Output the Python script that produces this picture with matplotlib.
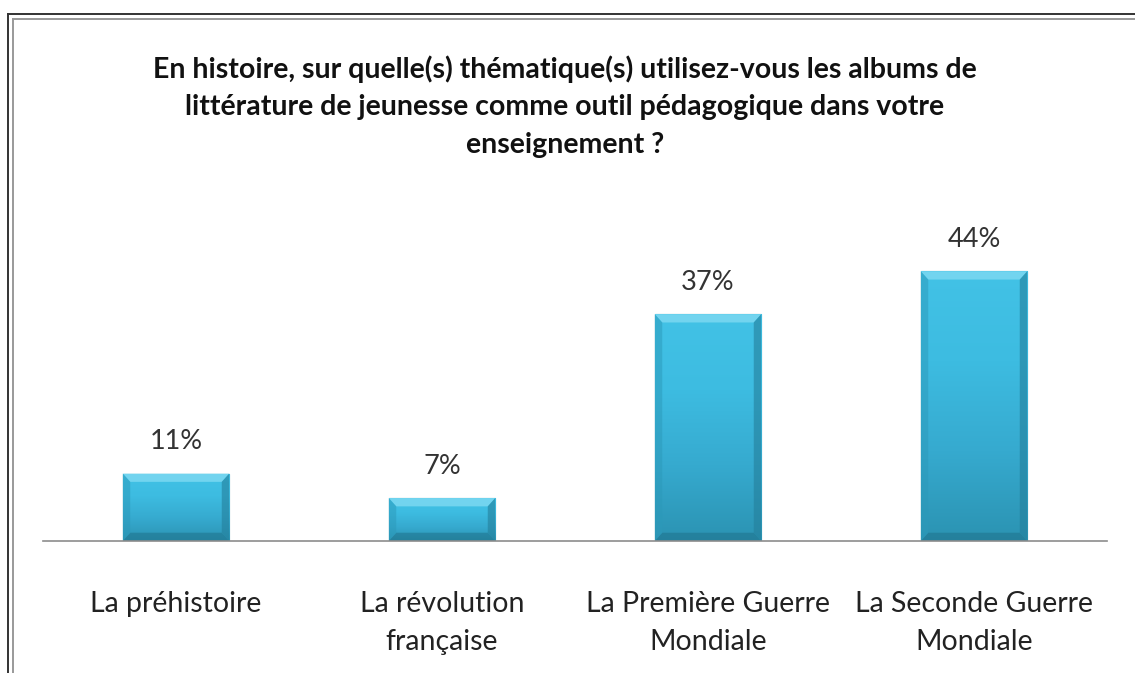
import numpy as np
import matplotlib
matplotlib.use("Agg")
import matplotlib.pyplot as plt
from matplotlib.colors import LinearSegmentedColormap
from matplotlib.patches import Polygon
from matplotlib.lines import Line2D

categories = ["La préhistoire", "La révolution\nfrançaise",
              "La Première Guerre\nMondiale", "La Seconde Guerre\nMondiale"]
values = [11, 7, 37, 44]
value_labels = ["11%", "7%", "37%", "44%"]
title_lines = ["En histoire, sur quelle(s) thématique(s) utilisez-vous les albums de",
               "littérature de jeunesse comme outil pédagogique dans votre",
               "enseignement ?"]

plt.rcParams['font.family'] = ['Lato', 'DejaVu Sans']

W, H = 1135, 673
fig = plt.figure(figsize=(W / 100, H / 100), dpi=100)
fig.patch.set_facecolor("white")

# frame lines (double border at top and left)
fig.add_artist(Line2D([8 / W, 8 / W], [0, 1 - 14 / H], transform=fig.transFigure, color="#333333", lw=1.4))
fig.add_artist(Line2D([8 / W, 1], [1 - 14 / H, 1 - 14 / H], transform=fig.transFigure, color="#333333", lw=1.4))
fig.add_artist(Line2D([12.5 / W, 12.5 / W], [0, 1 - 18.5 / H], transform=fig.transFigure, color="#999999", lw=1.4))
fig.add_artist(Line2D([12.5 / W, 1], [1 - 18.5 / H, 1 - 18.5 / H], transform=fig.transFigure, color="#999999", lw=1.4))

ax = fig.add_axes([43 / W, 1 - 541 / H, (1107 - 43) / W, 306.5 / H])
x = np.arange(len(categories))
bars = ax.bar(x, values, width=0.4, color="#3BB8DD", zorder=2)
ax.set_xlim(-0.5, len(categories) - 0.5)
ax.set_ylim(0, 50)

cmap = LinearSegmentedColormap.from_list("g", ["#2B93B2", "#36AACF", "#3DBCE1", "#42C2E6"])
grad = np.linspace(0, 1, 256).reshape(-1, 1)
for b in bars:
    x0, y0 = b.get_x(), b.get_y()
    w, h = b.get_width(), b.get_height()
    im = ax.imshow(grad, extent=[x0, x0 + w, y0, y0 + h], origin="lower",
                   cmap=cmap, aspect="auto", zorder=3)
    im.set_clip_path(b)
    bx = w * 0.07
    by = 1.35
    ax.add_patch(Polygon([[x0, y0 + h], [x0 + w, y0 + h], [x0 + w - bx, y0 + h - by], [x0 + bx, y0 + h - by]],
                         closed=True, facecolor="#7FDAF2", edgecolor="none", alpha=0.8, zorder=4))
    ax.add_patch(Polygon([[x0, y0], [x0 + w, y0], [x0 + w - bx, y0 + by], [x0 + bx, y0 + by]],
                         closed=True, facecolor="#1E6F88", edgecolor="none", alpha=0.5, zorder=4))
    ax.add_patch(Polygon([[x0, y0], [x0, y0 + h], [x0 + bx, y0 + h - by], [x0 + bx, y0 + by]],
                         closed=True, facecolor="#2C99B9", edgecolor="none", alpha=0.5, zorder=4))
    ax.add_patch(Polygon([[x0 + w, y0], [x0 + w, y0 + h], [x0 + w - bx, y0 + h - by], [x0 + w - bx, y0 + by]],
                         closed=True, facecolor="#247F9B", edgecolor="none", alpha=0.6, zorder=4))
    b.set_edgecolor("#1F7690")
    b.set_linewidth(0.8)

for xi, v, lab in zip(x, values, value_labels):
    ax.annotate(lab, (xi, v), xytext=(0, 14), textcoords="offset points",
                ha="center", va="bottom", fontsize=19.5, color="#333333")

for s in ["top", "right", "left"]:
    ax.spines[s].set_visible(False)
ax.spines["bottom"].set_color("#8C8C8C")
ax.spines["bottom"].set_linewidth(1.2)
ax.spines["bottom"].set_zorder(5)
ax.set_yticks([])
ax.set_xticks(x)
ax.set_xticklabels(categories, fontsize=20.5, color="#222222", linespacing=1.55)
ax.tick_params(axis="x", length=0, pad=36)

for i, line in enumerate(title_lines):
    fig.text(565 / W, 1 - (67 + 38 * i) / H, line, ha="center", va="center_baseline",
             fontsize=20.5, fontweight="bold", color="#111111")

fig.savefig("out.png", dpi=100, facecolor="white")
